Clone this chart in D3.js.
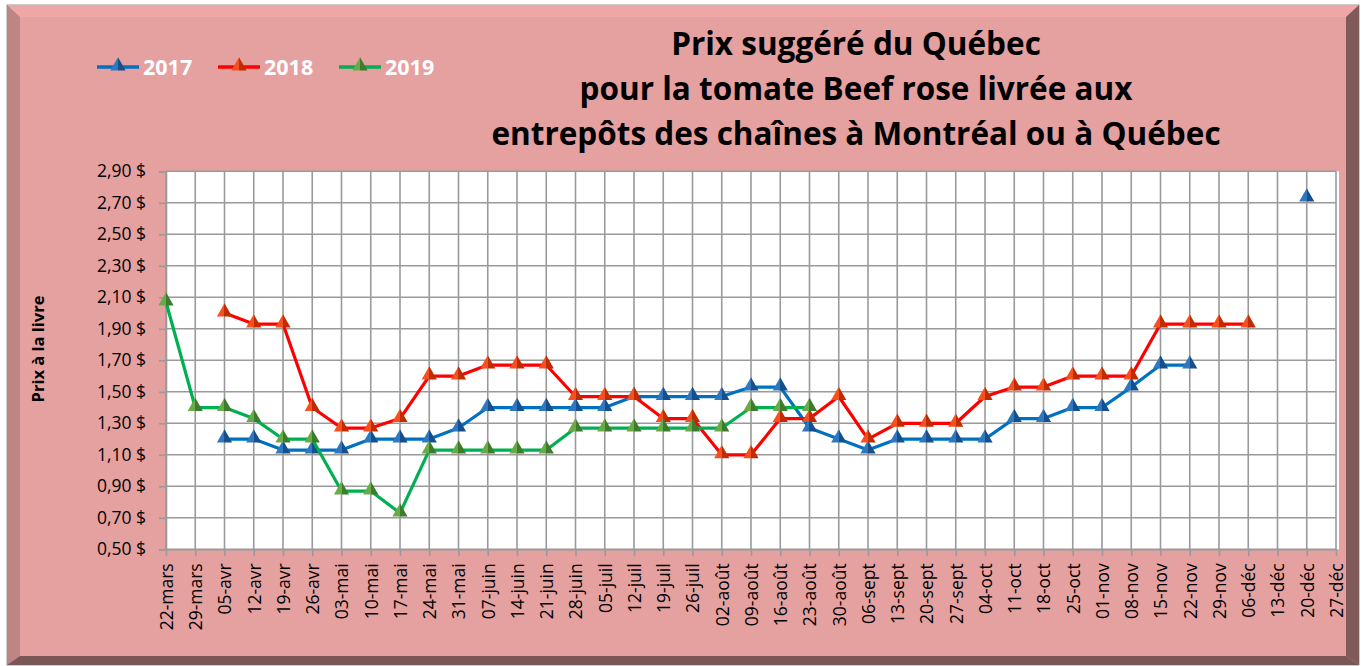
<!DOCTYPE html>
<html lang="fr">
<head>
<meta charset="utf-8">
<script src="https://cdn.jsdelivr.net/npm/d3@7"></script>
<style>
  body { margin: 0; background: #fff; }
  text { font-family: "Open Sans", sans-serif; }
</style>
</head>
<body>
<div id="chart"></div>
<script>
// Semaines (axe des x)
const semaines = ["22-mars", "29-mars", "05-avr", "12-avr", "19-avr", "26-avr",
    "03-mai", "10-mai", "17-mai", "24-mai", "31-mai", "07-juin", "14-juin", "21-juin",
    "28-juin", "05-juil", "12-juil", "19-juil", "26-juil", "02-août", "09-août",
    "16-août", "23-août", "30-août", "06-sept", "13-sept", "20-sept", "27-sept",
    "04-oct", "11-oct", "18-oct", "25-oct", "01-nov", "08-nov", "15-nov", "22-nov",
    "29-nov", "06-déc", "13-déc", "20-déc", "27-déc"];

const annees = ["2017", "2018", "2019"];

// Prix à la livre ($), null = pas de prix
const prix2017 = [null, null, 1.20, 1.20, 1.13, 1.13, 1.13, 1.20, 1.20, 1.20, 1.27,
    1.40, 1.40, 1.40, 1.40, 1.40, 1.47, 1.47, 1.47, 1.47, 1.53, 1.53, 1.27, 1.20,
    1.13, 1.20, 1.20, 1.20, 1.20, 1.33, 1.33, 1.40, 1.40, 1.53, 1.67, 1.67,
    null, null, null, 2.73, null];
const prix2018 = [null, null, 2.00, 1.93, 1.93, 1.40, 1.27, 1.27, 1.33, 1.60, 1.60,
    1.67, 1.67, 1.67, 1.47, 1.47, 1.47, 1.33, 1.33, 1.10, 1.10, 1.33, 1.33, 1.47,
    1.20, 1.30, 1.30, 1.30, 1.47, 1.53, 1.53, 1.60, 1.60, 1.60, 1.93, 1.93,
    1.93, 1.93, null, null, null];
const prix2019 = [2.07, 1.40, 1.40, 1.33, 1.20, 1.20, 0.87, 0.87, 0.73, 1.13, 1.13,
    1.13, 1.13, 1.13, 1.27, 1.27, 1.27, 1.27, 1.27, 1.27, 1.40, 1.40, 1.40, null,
    null, null, null, null, null, null, null, null, null, null, null, null,
    null, null, null, null, null];

const yTicks = [0.5, 0.7, 0.9, 1.1, 1.3, 1.5, 1.7, 1.9, 2.1, 2.3, 2.5, 2.7, 2.9];

const titre = ["Prix suggéré du Québec",
    "pour la tomate Beef rose livrée aux",
    "entrepôts des chaînes à Montréal ou à Québec"];

const width = 1363, height = 666;
const plot = { left: 166, right: 1336, top: 171.3, bottom: 549.3 };

const series = [
    { nom: annees[0], valeurs: prix2017, ligne: "#0070C0", clair: "#2F78C0", fonce: "#15508C" },
    { nom: annees[1], valeurs: prix2018, ligne: "#FF0000", clair: "#F4511E", fonce: "#C02C00" },
    { nom: annees[2], valeurs: prix2019, ligne: "#00B050", clair: "#6BAA48", fonce: "#3C7C2C" }
];

const svg = d3.select("#chart")
    .append("svg")
    .attr("width", width)
    .attr("height", height);

// Cadre biseauté
const o = { x0: 7, y0: 5, x1: 1359, y1: 665 };
const i = { x0: 20, y0: 17, x1: 1346, y1: 656 };
svg.append("rect")
    .attr("x", o.x0).attr("y", o.y0)
    .attr("width", o.x1 - o.x0).attr("height", o.y1 - o.y0)
    .attr("fill", "#E5A0A0")
    .attr("stroke", "#9a9a9a")
    .attr("stroke-width", 1);

const biseaux = [
    { pts: [[o.x0, o.y0], [o.x1, o.y0], [i.x1, i.y0], [i.x0, i.y0]], fill: "#EEA6A6" },
    { pts: [[o.x0, o.y0], [i.x0, i.y0], [i.x0, i.y1], [o.x0, o.y1]], fill: "#BE8585" },
    { pts: [[o.x1, o.y0], [o.x1, o.y1], [i.x1, i.y1], [i.x1, i.y0]], fill: "#805959" },
    { pts: [[o.x0, o.y1], [i.x0, i.y1], [i.x1, i.y1], [o.x1, o.y1]], fill: "#7A5656" }
];
svg.selectAll("polygon.biseau")
    .data(biseaux)
    .join("polygon")
    .attr("class", "biseau")
    .attr("points", d => d.pts.map(p => p.join(",")).join(" "))
    .attr("fill", d => d.fill);

// Dégradés des marqueurs (effet 3D)
const defs = svg.append("defs");
series.forEach(s => {
    const g = defs.append("linearGradient")
        .attr("id", "grad" + s.nom)
        .attr("x1", 0).attr("x2", 1).attr("y1", 0).attr("y2", 0);
    g.append("stop").attr("offset", 0).attr("stop-color", s.clair);
    g.append("stop").attr("offset", 0.5).attr("stop-color", s.clair);
    g.append("stop").attr("offset", 0.5).attr("stop-color", s.fonce);
    g.append("stop").attr("offset", 1).attr("stop-color", s.fonce);
});

// Echelles
const x = d3.scalePoint()
    .domain(semaines)
    .range([plot.left, plot.right]);

const y = d3.scaleLinear()
    .domain([0.5, 2.9])
    .range([plot.bottom, plot.top]);

// Zone de tracé
svg.append("rect")
    .attr("x", plot.left).attr("y", plot.top)
    .attr("width", plot.right - plot.left + 3)
    .attr("height", plot.bottom - plot.top)
    .attr("fill", "#fff");

// Quadrillage
svg.append("g")
    .selectAll("line")
    .data(semaines)
    .join("line")
    .attr("x1", d => x(d)).attr("x2", d => x(d))
    .attr("y1", plot.top).attr("y2", plot.bottom)
    .attr("stroke", "#9a9a9a")
    .attr("stroke-width", 1.6);

svg.append("g")
    .selectAll("line")
    .data(yTicks)
    .join("line")
    .attr("x1", plot.left).attr("x2", plot.right)
    .attr("y1", d => y(d)).attr("y2", d => y(d))
    .attr("stroke", "#9a9a9a")
    .attr("stroke-width", 1.6);

// Axe y
const yAxis = svg.append("g")
    .attr("transform", `translate(${plot.left},0)`)
    .call(d3.axisLeft(y)
        .tickValues(yTicks)
        .tickSize(7)
        .tickPadding(13)
        .tickFormat(d => d.toFixed(2).replace(".", ",") + " $"));
yAxis.select(".domain").attr("stroke", "#9a9a9a").attr("stroke-width", 1.6);
yAxis.selectAll(".tick line").attr("stroke", "#9a9a9a").attr("stroke-width", 1.6);
yAxis.selectAll("text")
    .attr("font-family", "Open Sans, sans-serif")
    .attr("font-size", 17.5)
    .attr("fill", "#000");

// Axe x
const xAxis = svg.append("g")
    .attr("transform", `translate(0,${plot.bottom})`)
    .call(d3.axisBottom(x).tickSize(7).tickSizeOuter(0));
xAxis.select(".domain").attr("stroke", "#9a9a9a").attr("stroke-width", 1.6);
xAxis.selectAll(".tick line").attr("stroke", "#9a9a9a").attr("stroke-width", 1.6);
xAxis.selectAll("text")
    .attr("transform", "rotate(-90)")
    .attr("text-anchor", "end")
    .attr("x", -14)
    .attr("y", 0)
    .attr("dy", "0.36em")
    .attr("font-family", "Open Sans, sans-serif")
    .attr("font-size", 17.5)
    .attr("fill", "#000");

// Titre de l'axe y
svg.append("text")
    .attr("transform", "translate(44,349) rotate(-90)")
    .attr("text-anchor", "middle")
    .attr("font-size", 16.5)
    .attr("font-weight", "bold")
    .attr("fill", "#000")
    .text("Prix à la livre");

// Lignes et marqueurs
const line = d3.line()
    .defined(d => d.v != null)
    .x(d => x(d.semaine))
    .y(d => y(d.v));

const triangle = d3.symbol().type(d3.symbolTriangle).size(100);

series.forEach(s => {
    const pts = s.valeurs.map((v, k) => ({ semaine: semaines[k], v: v }));
    svg.append("path")
        .datum(pts)
        .attr("d", line)
        .attr("fill", "none")
        .attr("stroke", s.ligne)
        .attr("stroke-width", 3.2)
        .attr("stroke-linejoin", "round");
    svg.append("g")
        .selectAll("path")
        .data(pts.filter(d => d.v != null))
        .join("path")
        .attr("d", triangle)
        .attr("transform", d => `translate(${x(d.semaine)},${y(d.v) - 1})`)
        .attr("fill", `url(#grad${s.nom})`);
});

// Légende
const legende = svg.append("g")
    .selectAll("g")
    .data(series)
    .join("g")
    .attr("transform", (d, k) => `translate(${97 + k * 121},67)`);
legende.append("line")
    .attr("x1", 0).attr("x2", 42)
    .attr("stroke", d => d.ligne)
    .attr("stroke-width", 3.5);
legende.append("path")
    .attr("d", triangle)
    .attr("transform", "translate(21,-1)")
    .attr("fill", d => `url(#grad${d.nom})`);
legende.append("text")
    .attr("x", 46)
    .attr("y", 8)
    .attr("font-size", 21.5)
    .attr("font-weight", "bold")
    .attr("fill", "#fff")
    .text(d => d.nom);

// Titre
svg.append("g")
    .selectAll("text")
    .data(titre)
    .join("text")
    .attr("x", 856)
    .attr("y", (d, k) => 55 + k * 45)
    .attr("text-anchor", "middle")
    .attr("font-size", 31.5)
    .attr("font-weight", "bold")
    .attr("fill", "#000")
    .text(d => d);
</script>
</body>
</html>
